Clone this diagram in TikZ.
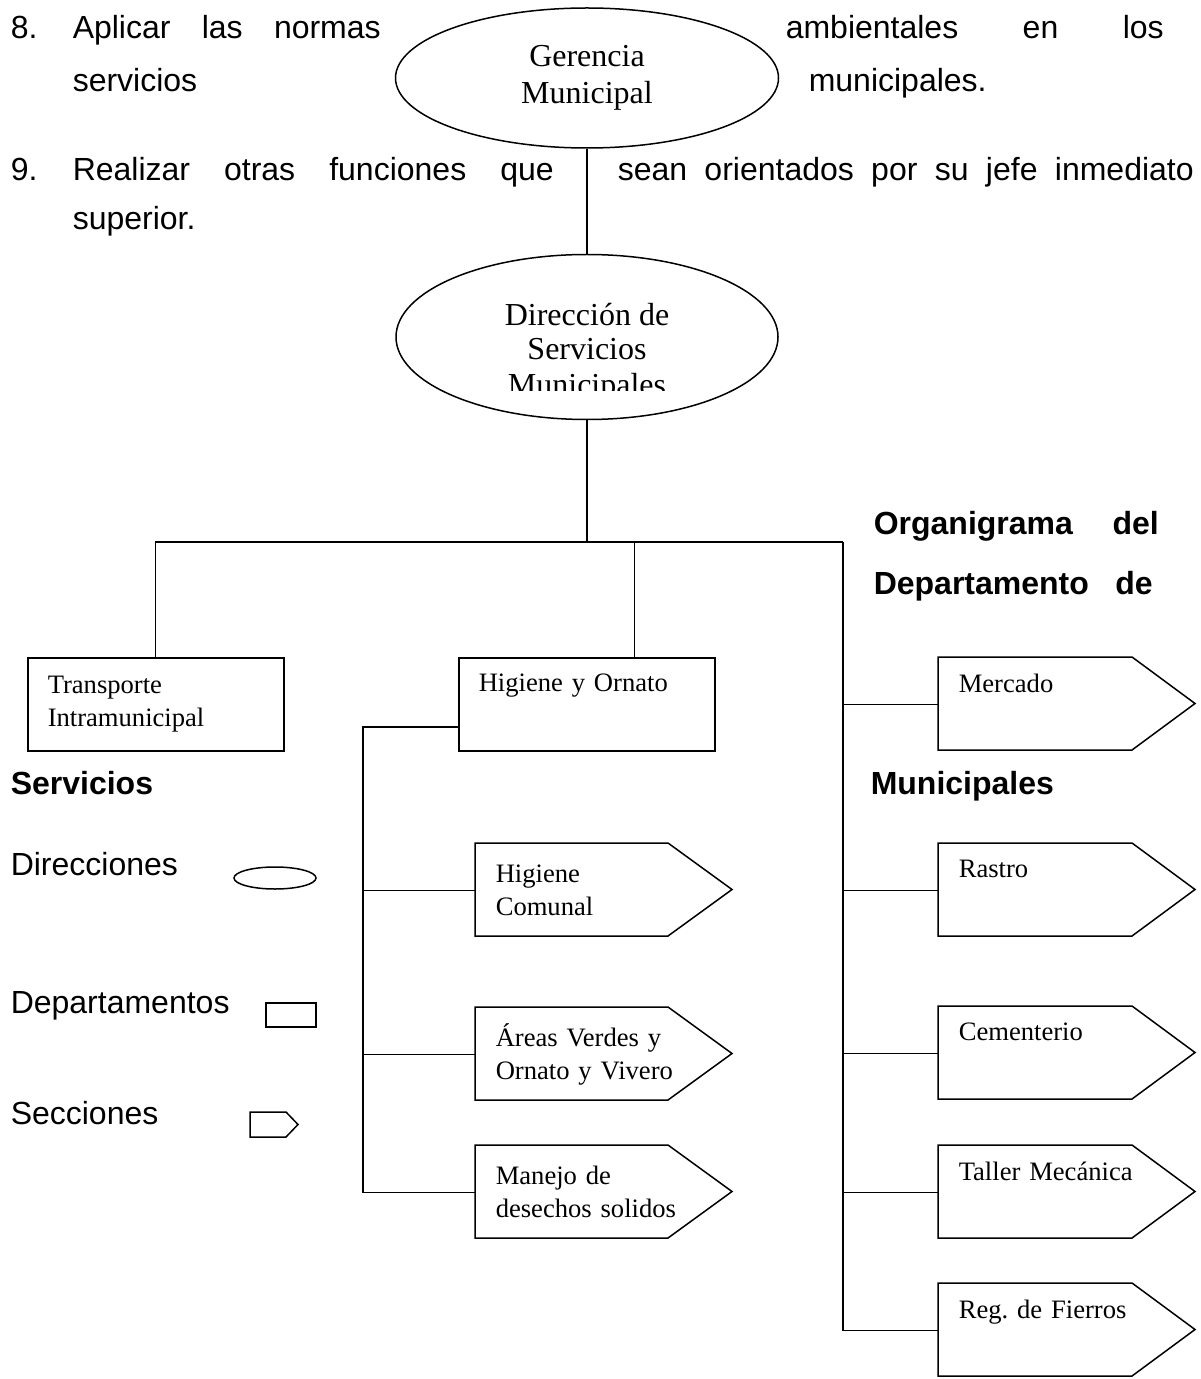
\documentclass[tikz,border=0pt]{standalone}
\usepackage{fontspec}
\setmainfont{Liberation Sans}
\newfontfamily\boxfont{Liberation Serif}
\usetikzlibrary{shapes.geometric}
\frenchspacing

\tikzset{
  texto/.style={anchor=base west, inner sep=0pt, font=\fontsize{16}{19}\selectfont},
  titulo/.style={texto, font=\fontsize{16}{19}\selectfont\bfseries},
  direccion/.style={draw, ellipse, inner sep=0pt, align=center,
    font=\boxfont\fontsize{16}{18.5}\selectfont},
  depto/.style={draw, rectangle, anchor=north west, minimum width=128pt,
    minimum height=46.5pt, text width=108pt, inner xsep=10pt, align=left,
    font=\boxfont\fontsize{13.3}{16.5}\selectfont},
  seccion/.style={rectangle, anchor=north west, minimum height=46.5pt,
    text width=100pt, inner xsep=10pt, align=left,
    font=\boxfont\fontsize{13.3}{16.5}\selectfont},
  conector/.style={line width=0.6pt}
}

\begin{document}
\begin{tikzpicture}[x=0.5pt, y=-0.5pt, line width=0.75pt]
\useasboundingbox (0,0) rectangle (1200,1379);

% texto de las funciones
\node[texto] (n8) at (10,39) {8.};
\node[texto] (l1a) at (72,39) {\hbox to 154pt{Aplicar\hfill las\hfill normas}};
\node[texto] (l1b) at (785,39) {\hbox to 189pt{ambientales\hfill en\hfill los}};
\node[texto] (l2a) at (72,92) {servicios};
\node[texto] (l2b) at (808,92) {municipales.};
\node[texto] (n9) at (10,181) {9.};
\node[texto] (l3a) at (72,181) {\hbox to 240.5pt{Realizar\hfill otras\hfill funciones\hfill que}};
\node[texto] (l3b) at (617,181) {\hbox to 288pt{sean\hfill orientados\hfill por\hfill su\hfill jefe\hfill inmediato}};
\node[texto] (l4a) at (72,230) {superior.};

% titulo
\node[titulo] (tit1) at (873,534) {\hbox to 142.5pt{Organigrama\hfill del}};
\node[titulo] (tit2) at (873,594) {\hbox to 139.5pt{Departamento\hfill de}};
\node[titulo] (tit3) at (10,794) {Servicios};
\node[titulo] (tit4) at (870,794) {Municipales};

% direcciones
\node[direccion, minimum width=191.5pt, minimum height=70pt] (ger) at (587,78) {Gerencia\\Municipal};
\node[direccion, minimum width=191pt, minimum height=82.5pt] (dir) at (587,337) {};
\begin{scope}
  \clip (400,280) rectangle (780,391);
  \node[anchor=north, align=center, inner sep=0pt,
    font=\boxfont\fontsize{16}{17.5}\selectfont] (dirtxt) at (587,302) {Direcci\'on de\\Servicios\\Municipales};
\end{scope}

% departamentos
\node[depto] (trans) at (27,657) {Transporte\\Intramunicipal};
\node[depto] (higo) at (458,657) {Higiene y Ornato\\\strut};

% secciones
\node[seccion] (hcom) at (475,843) {Higiene\\Comunal};
\node[seccion] (aver) at (475,1007) {\'Areas Verdes y\\Ornato y Vivero};
\node[seccion] (mdes) at (475,1145) {Manejo de\\desechos solidos};
\node[seccion] (merc) at (938,657) {Mercado\\\strut};
\node[seccion] (rast) at (938,843) {Rastro\\\strut};
\node[seccion] (ceme) at (938,1006) {Cementerio\\\strut};
\node[seccion] (tall) at (938,1145) {Taller Mec\'anica\\\strut};
\node[seccion] (regf) at (938,1283) {Reg. de Fierros\\\strut};

% leyenda
\node[texto] (ley1) at (10,875) {Direcciones};
\node[texto] (ley2) at (10,1013) {Departamentos};
\node[texto] (ley3) at (10,1124) {Secciones};
\node[direccion, minimum width=41pt, minimum height=11pt] (ldir) at (275,878) {};
\node[draw, rectangle, inner sep=0pt, minimum width=25pt, minimum height=12pt] (ldep) at (291,1015) {};
\node[rectangle, anchor=north west, inner sep=0pt, minimum height=12.5pt] (lsec) at (250,1112) {};

% contorno de las secciones
\foreach \n/\w/\t/\hh in {hcom/96.5pt/32pt/23.25pt, aver/96.5pt/32pt/23.25pt,
    mdes/96.5pt/32pt/23.25pt, merc/97pt/31.5pt/23.25pt, rast/97pt/31.5pt/23.25pt,
    ceme/97pt/31.5pt/23.25pt, tall/97pt/31.5pt/23.25pt, regf/97pt/31.5pt/23.25pt,
    lsec/18pt/6pt/6.25pt}
  \draw (\n.north west) -- ++(\w,0) -- ++(\t,-\hh) -- ++(-\t,-\hh) -- ++(-\w,0) -- cycle;

% conectores
\coordinate (barra) at (587,542);
\coordinate (espi) at (363,727);
\coordinate (espd) at (843,542);
\draw[conector] (ger) -- (dir);
\draw[conector] (dir) -- (barra);
\draw[conector] (trans.north) |- (barra) -- (espd);
\draw[conector] ([xshift=24pt]higo.north) -- ([xshift=24pt]higo.north |- barra);
\draw[conector] (espd) |- (regf.west);
\foreach \s in {merc,rast,ceme,tall}
  \draw[conector] (espd |- \s.west) -- (\s.west);
\draw[conector] (higo.west |- espi) -- (espi) |- (mdes.west);
\foreach \s in {hcom,aver}
  \draw[conector] (espi |- \s.west) -- (\s.west);
\end{tikzpicture}
\end{document}
